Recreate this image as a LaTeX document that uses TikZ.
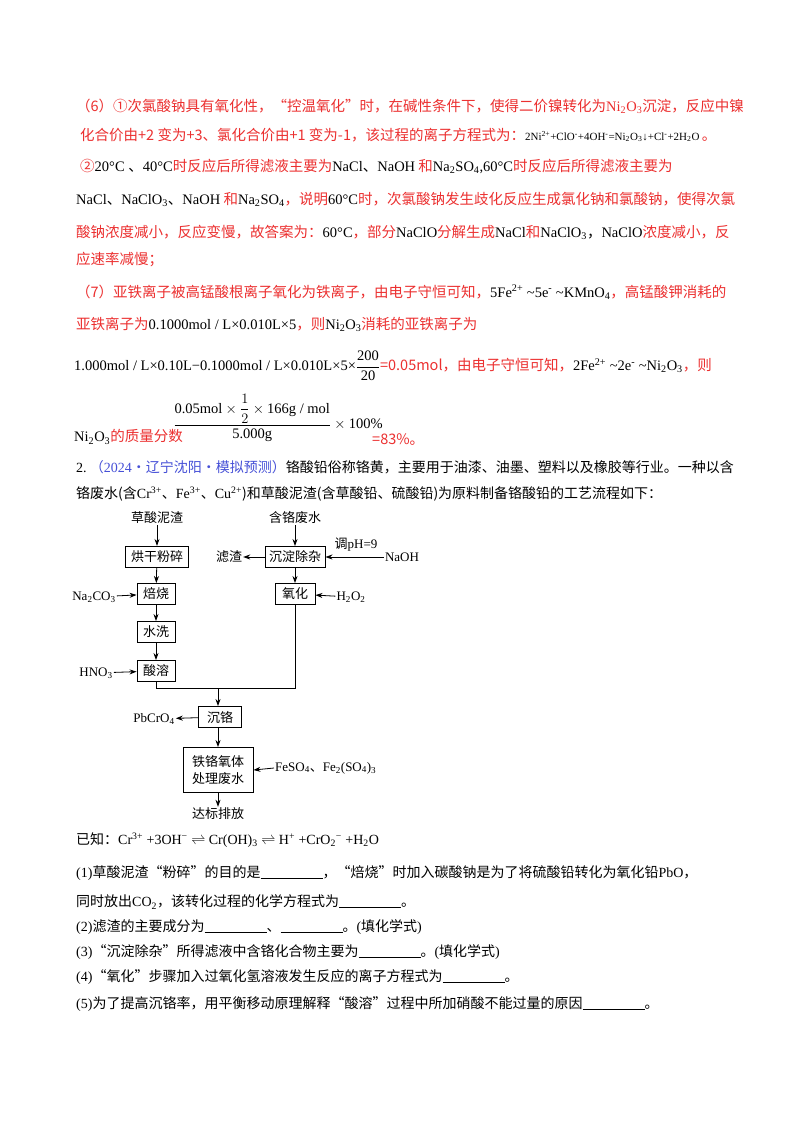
\documentclass[tikz,border=0pt]{standalone}
\usepackage{fontspec}
\usepackage{amsmath}
\usetikzlibrary{arrows.meta}
\setmainfont{Noto Sans CJK SC}
\newfontfamily\tms{Liberation Serif}
\definecolor{rd}{RGB}{236,48,48}
\definecolor{bl}{RGB}{70,80,215}
\newcommand\bk[1]{{\color{black}\tms #1}}
\newcommand\bc[1]{{\color{black}#1}}
\newcommand\tm[1]{{\tms #1}}
\newcommand\dn[1]{\textsubscript{#1}}
\newcommand\up[1]{\textsuperscript{#1}}
\newcommand\blank{\rule[-1pt]{62pt}{0.8pt}}
\tikzset{
  line/.style={anchor=west,inner sep=0pt,font=\fontsize{14.5}{17}\selectfont},
  red/.style={line,text=rd},
  qline/.style={anchor=west,inner sep=0pt,font=\fontsize{14}{17}\selectfont},
  fbox/.style={draw,line width=0.9pt,inner sep=2pt,minimum height=21pt,font=\fontsize{13}{15}\selectfont},
  flab/.style={inner sep=1pt,font=\fontsize{13}{15}\selectfont},
  arr/.style={-{Stealth[length=7pt,width=5pt]},line width=0.8pt}
}
\begin{document}
\begin{tikzpicture}[x=1pt,y=-1pt]
\fill[white] (0,0) rectangle (800,1132);
\useasboundingbox (0,0) rectangle (800,1132);
% answer text (red)
\node[red] (l1) at (76,106) {（6）①次氯酸钠具有氧化性，“控温氧化”时，在碱性条件下，使得二价镍转化为\tm{Ni\dn{2}O\dn{3}}沉淀，反应中镍};
\node[red] (l2) at (80,135) {化合价由+2 变为+3、氯化合价由+1 变为-1，该过程的离子方程式为：{\fontsize{11}{13}\selectfont\bk{2Ni\up{2+}+ClO\up{-}+4OH\up{-}=Ni\dn{2}O\dn{3}↓+Cl\up{-}+2H\dn{2}O}}\,。};
\node[red] (l3) at (80,166) {②\bk{20°C }\bc{、}\bk{40°C}时反应后所得滤液主要为\bk{NaCl}\bc{、}\bk{NaOH} 和\bk{Na\dn{2}SO\dn{4},60°C}时反应后所得滤液主要为};
\node[red] (l4) at (76,199) {\bk{NaCl}\bc{、}\bk{NaClO\dn{3}}\bc{、}\bk{NaOH} 和\bk{Na\dn{2}SO\dn{4}}，说明\bk{60°C}时，次氯酸钠发生歧化反应生成氯化钠和氯酸钠，使得次氯};
\node[red] (l5) at (76,232) {酸钠浓度减小，反应变慢，故答案为：\bk{60°C}，部分\bk{NaClO}分解生成\bk{NaCl}和\bk{NaClO\dn{3}}\bc{，}\bk{NaClO}浓度减小，反};
\node[red] (l6) at (76,260) {应速率减慢；};
\node[red] (l7) at (76,292) {（7）亚铁离子被高锰酸根离子氧化为铁离子，由电子守恒可知，\bk{5Fe\up{2+} \textasciitilde5e\up{-} \textasciitilde KMnO\dn{4}}，高锰酸钾消耗的};
\node[red] (l8) at (76,324) {亚铁离子为\bk{0.1000mol / L×0.010L×5}，则\bk{Ni\dn{2}O\dn{3}}消耗的亚铁离子为};
\node[red] (l9) at (74,366) {\bk{1.000mol / L×0.10L−0.1000mol / L×0.010L×5×$\dfrac{\mbox{\tms 200}}{\mbox{\tms 20}}$}=0.05mol，由电子守恒可知，\bk{2Fe\up{2+} \textasciitilde2e\up{-} \textasciitilde Ni\dn{2}O\dn{3}}，则};
\node[red] (l10) at (74,437) {\bk{Ni\dn{2}O\dn{3}}的质量分数};
\node[inner sep=0pt,font=\fontsize{14.5}{17}\selectfont] (frac) at (278,418) {\tms$\dfrac{\mbox{\tms 0.05mol}\times\dfrac{1}{2}\times\mbox{\tms 166g / mol}}{\mbox{\tms 5.000g}}\times\mbox{\tms 100\%}$};
\node[red] (l10b) at (372,440) {=83\%。};
% question
\node[qline] (q0) at (76,467) {\tm{2.}\ {\color{bl}（\tm{2024}·辽宁沈阳·模拟预测）}铬酸铅俗称铬黄，主要用于油漆、油墨、塑料以及橡胶等行业。一种以含};
\node[qline] (q0b) at (76,494) {铬废水(含\tm{Cr\up{3+}}、\tm{Fe\up{3+}}、\tm{Cu\up{2+}})和草酸泥渣(含草酸铅、硫酸铅)为原料制备铬酸铅的工艺流程如下：};
% flowchart
\node[flab] (zs) at (157,518) {草酸泥渣};
\node[fbox,minimum width=63pt,line width=1.2pt] (hg) at (157,557) {烘干粉碎};
\node[fbox,minimum width=38pt] (bs) at (156,594) {焙烧};
\node[fbox,minimum width=38pt] (sx) at (156,632) {水洗};
\node[fbox,minimum width=38pt] (sr) at (156,671) {酸溶};
\node[flab] (na2) at (94,597) {\tm{Na\dn{2}CO\dn{3}}};
\node[flab] (hno) at (96,673) {\tm{HNO\dn{3}}};
\node[flab] (hs) at (295,518) {含铬废水};
\node[fbox,minimum width=60pt] (cd) at (295,557) {沉淀除杂};
\node[flab] (lz) at (229,557) {滤渣};
\node[flab] (ph) at (356,545) {调\tm{pH=9}};
\node[flab] (naoh) at (402,557) {\tm{NaOH}};
\node[fbox,minimum width=40pt] (yh) at (295,594) {氧化};
\node[flab] (h2o2) at (351,597) {\tm{H\dn{2}O\dn{2}}};
\coordinate (j1) at (156,688);
\coordinate (j2) at (295,688);
\coordinate (jm) at (218,688);
\node[fbox,minimum width=43pt] (cg) at (220,717) {沉铬};
\node[flab] (pb) at (154,719) {\tm{PbCrO\dn{4}}};
\node[fbox,minimum width=70pt,minimum height=45pt,align=center,font=\fontsize{13}{17}\selectfont] (tg) at (218,770) {铁铬氧体\\处理废水};
\node[flab,anchor=west] (fe) at (274,768) {\tm{FeSO\dn{4}}、\tm{Fe\dn{2}(SO\dn{4})\dn{3}}};
\node[flab] (db) at (218,814) {达标排放};
\draw[arr] (zs) -- (hg);
\draw[arr] (hg) -- (bs);
\draw[arr] (bs) -- (sx);
\draw[arr] (sx) -- (sr);
\draw[arr] (na2) -- (bs);
\draw[arr] (hno) -- (sr);
\draw[arr] (hs) -- (cd);
\draw[arr] (cd) -- (lz);
\draw[arr] (naoh) -- (cd);
\draw[arr] (cd) -- (yh);
\draw[arr] (h2o2) -- (yh);
\draw[line width=0.8pt] (sr.south) -- (j1) -- (j2) -- (yh.south);
\draw[arr] (jm) -- (jm |- cg.north);
\draw[arr] (cg) -- (pb);
\draw[arr] (cg.south -| tg.north) -- (tg.north);
\draw[arr] (fe.west) -- (tg.east);
\draw[arr] (tg) -- (db);
% questions
\node[qline] (k) at (76,840) {已知：\tm{Cr\up{3+} +3OH\up{−} $\rightleftharpoons$ Cr(OH)\dn{3} $\rightleftharpoons$ H\up{+} +CrO\dn{2}\up{−} +H\dn{2}O}};
\node[qline] (q1) at (76,873) {\tm{(1)}草酸泥渣“粉碎”的目的是\blank，“焙烧”时加入碳酸钠是为了将硫酸铅转化为氧化铅\tm{PbO}，};
\node[qline] (q1b) at (76,902) {同时放出\tm{CO\dn{2}}，该转化过程的化学方程式为\blank。};
\node[qline] (q2) at (76,927) {\tm{(2)}滤渣的主要成分为\blank、\blank。\tm{(}填化学式\tm{)}};
\node[qline] (q3) at (76,952) {\tm{(3)}“沉淀除杂”所得滤液中含铬化合物主要为\blank。\tm{(}填化学式\tm{)}};
\node[qline] (q4) at (76,977) {\tm{(4)}“氧化”步骤加入过氧化氢溶液发生反应的离子方程式为\blank。};
\node[qline] (q5) at (76,1004) {\tm{(5)}为了提高沉铬率，用平衡移动原理解释“酸溶”过程中所加硝酸不能过量的原因\blank。};
\end{tikzpicture}
\end{document}
